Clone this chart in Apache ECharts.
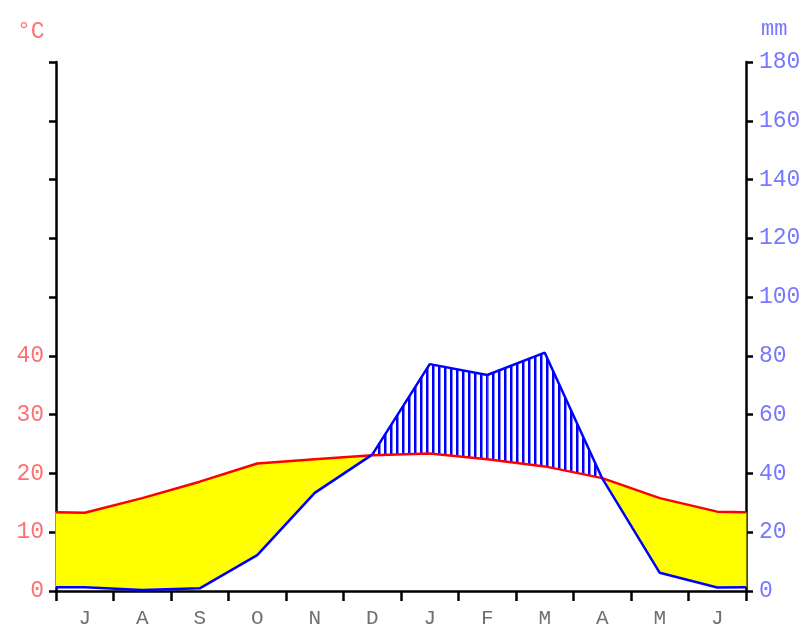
<!DOCTYPE html>
<html><head><meta charset="utf-8">
<script src="https://cdn.jsdelivr.net/npm/echarts@6/dist/echarts.min.js"></script>
<style>html,body{margin:0;padding:0;background:#fff}#c{width:805px;height:628px}</style>
</head><body><div id="c"></div>
<script>
const months = ['J','A','S','O','N','D','J','F','M','A','M','J'];
const temperature = [13.3, 15.8, 18.6, 21.7, 22.4, 23.1, 23.4, 22.4, 21.2, 19.2, 15.8, 13.5];
const precipitation = [1.3, 0.3, 0.9, 12.2, 33.4, 46.4, 77.2, 73.5, 81.1, 38.3, 6.2, 1.2];
const tempMax = 90, tempInterval = 10, tempLabelMax = 40;
const precipMax = 180, precipInterval = 20;

const n = months.length;
const edgeT = (temperature[0] + temperature[n - 1]) / 2;
const edgeP = (precipitation[0] + precipitation[n - 1]) / 2;
const xs = [0].concat(months.map((m, i) => i + 0.5), [n]);
const tAll = [edgeT].concat(temperature, [edgeT]);
const pAll = [edgeP].concat(precipitation, [edgeP]);
const ratio = precipMax / tempMax;
const segs = [];
for (let i = 0; i < xs.length - 1; i++) {
  segs.push([xs[i], xs[i + 1], tAll[i] * ratio, tAll[i + 1] * ratio, pAll[i], pAll[i + 1]]);
}

const hatch = document.createElement('canvas');
hatch.width = 6; hatch.height = 6;
const hctx = hatch.getContext('2d');
hctx.fillStyle = '#0000ff';
hctx.fillRect(0, 0, 2, 6);
hctx.fillStyle = '#8080ff';
hctx.fillRect(2, 0, 1, 6);

function renderItem(params, api) {
  const x0 = api.value(0), x1 = api.value(1), t0 = api.value(2), t1 = api.value(3), p0 = api.value(4), p1 = api.value(5);
  const d0 = t0 - p0, d1 = t1 - p1;
  const children = [];
  function poly(xa, xb, ta, tb, pa, pb, dry) {
    const pts = [api.coord([xa, ta]), api.coord([xb, tb]), api.coord([xb, pb]), api.coord([xa, pa])];
    children.push({ type: 'polygon', shape: { points: pts },
      style: dry ? { fill: '#ffff00', stroke: '#ffff00', lineWidth: 1 }
                 : { fill: { image: hatch, repeat: 'repeat' }, stroke: null } });
  }
  if (d0 * d1 < 0) {
    const f = d0 / (d0 - d1);
    const xc = x0 + (x1 - x0) * f, yc = t0 + (t1 - t0) * f;
    poly(x0, xc, t0, yc, p0, yc, d0 > 0);
    poly(xc, x1, yc, t1, yc, p1, d1 > 0);
  } else {
    poly(x0, x1, t0, t1, p0, p1, (d0 + d1) > 0);
  }
  return { type: 'group', children: children };
}

const font = 'Liberation Mono';
const chart = echarts.init(document.getElementById('c'), null, { renderer: 'canvas' });
chart.setOption({
  animation: false,
  backgroundColor: '#fff',
  title: [
    { text: '°C', left: 12, top: 15, textStyle: { color: '#ff7070', fontFamily: font, fontSize: 23, fontWeight: 'normal' } },
    { text: 'mm', left: 756, top: 13, textStyle: { color: '#7777ff', fontFamily: font, fontSize: 22, fontWeight: 'normal' } }
  ],
  grid: { left: 56, right: 59, top: 62, bottom: 37, containLabel: false, outerBoundsMode: 'none' },
  xAxis: [
    { type: 'value', min: 0, max: n, interval: 1, position: 'bottom',
      axisLine: { show: true, onZero: false, lineStyle: { color: '#000', width: 2.5 } },
      axisTick: { show: true, length: 10, lineStyle: { color: '#000', width: 2.5 } },
      axisLabel: { show: false }, splitLine: { show: false } },
    { type: 'category', position: 'bottom', data: months, boundaryGap: true,
      axisLine: { show: false, onZero: false }, axisTick: { show: false }, splitLine: { show: false },
      axisLabel: { interval: 0, color: '#707070', fontFamily: font, fontSize: 21, margin: 17 } }
  ],
  yAxis: [
    { type: 'value', position: 'left', min: 0, max: tempMax, interval: tempInterval,
      axisLine: { show: true, onZero: false, lineStyle: { color: '#000', width: 2.5 } },
      axisTick: { show: true, length: 7, lineStyle: { color: '#000', width: 2.5 } },
      axisLabel: { color: '#ff7070', fontFamily: font, fontSize: 23, margin: 12,
        formatter: v => (v <= tempLabelMax ? String(v) : '') },
      splitLine: { show: false } },
    { type: 'value', position: 'right', min: 0, max: precipMax, interval: precipInterval,
      axisLine: { show: true, onZero: false, lineStyle: { color: '#000', width: 2.5 } },
      axisTick: { show: true, length: 7, lineStyle: { color: '#000', width: 2.5 } },
      axisLabel: { color: '#7777ff', fontFamily: font, fontSize: 23, margin: 13 },
      splitLine: { show: false } }
  ],
  series: [
    { type: 'custom', xAxisIndex: 0, yAxisIndex: 1, renderItem: renderItem, data: segs,
      encode: { x: [0, 1], y: [2, 3, 4, 5] }, z: 1, silent: true },
    { type: 'line', xAxisIndex: 0, yAxisIndex: 0, data: xs.map((x, i) => [x, tAll[i]]),
      symbol: 'none', lineStyle: { color: '#ff0000', width: 2.5 }, z: 3 },
    { type: 'line', xAxisIndex: 0, yAxisIndex: 1, data: xs.map((x, i) => [x, pAll[i]]),
      symbol: 'none', lineStyle: { color: '#0000ff', width: 2.5 }, z: 4 }
  ]
});
</script></body></html>
